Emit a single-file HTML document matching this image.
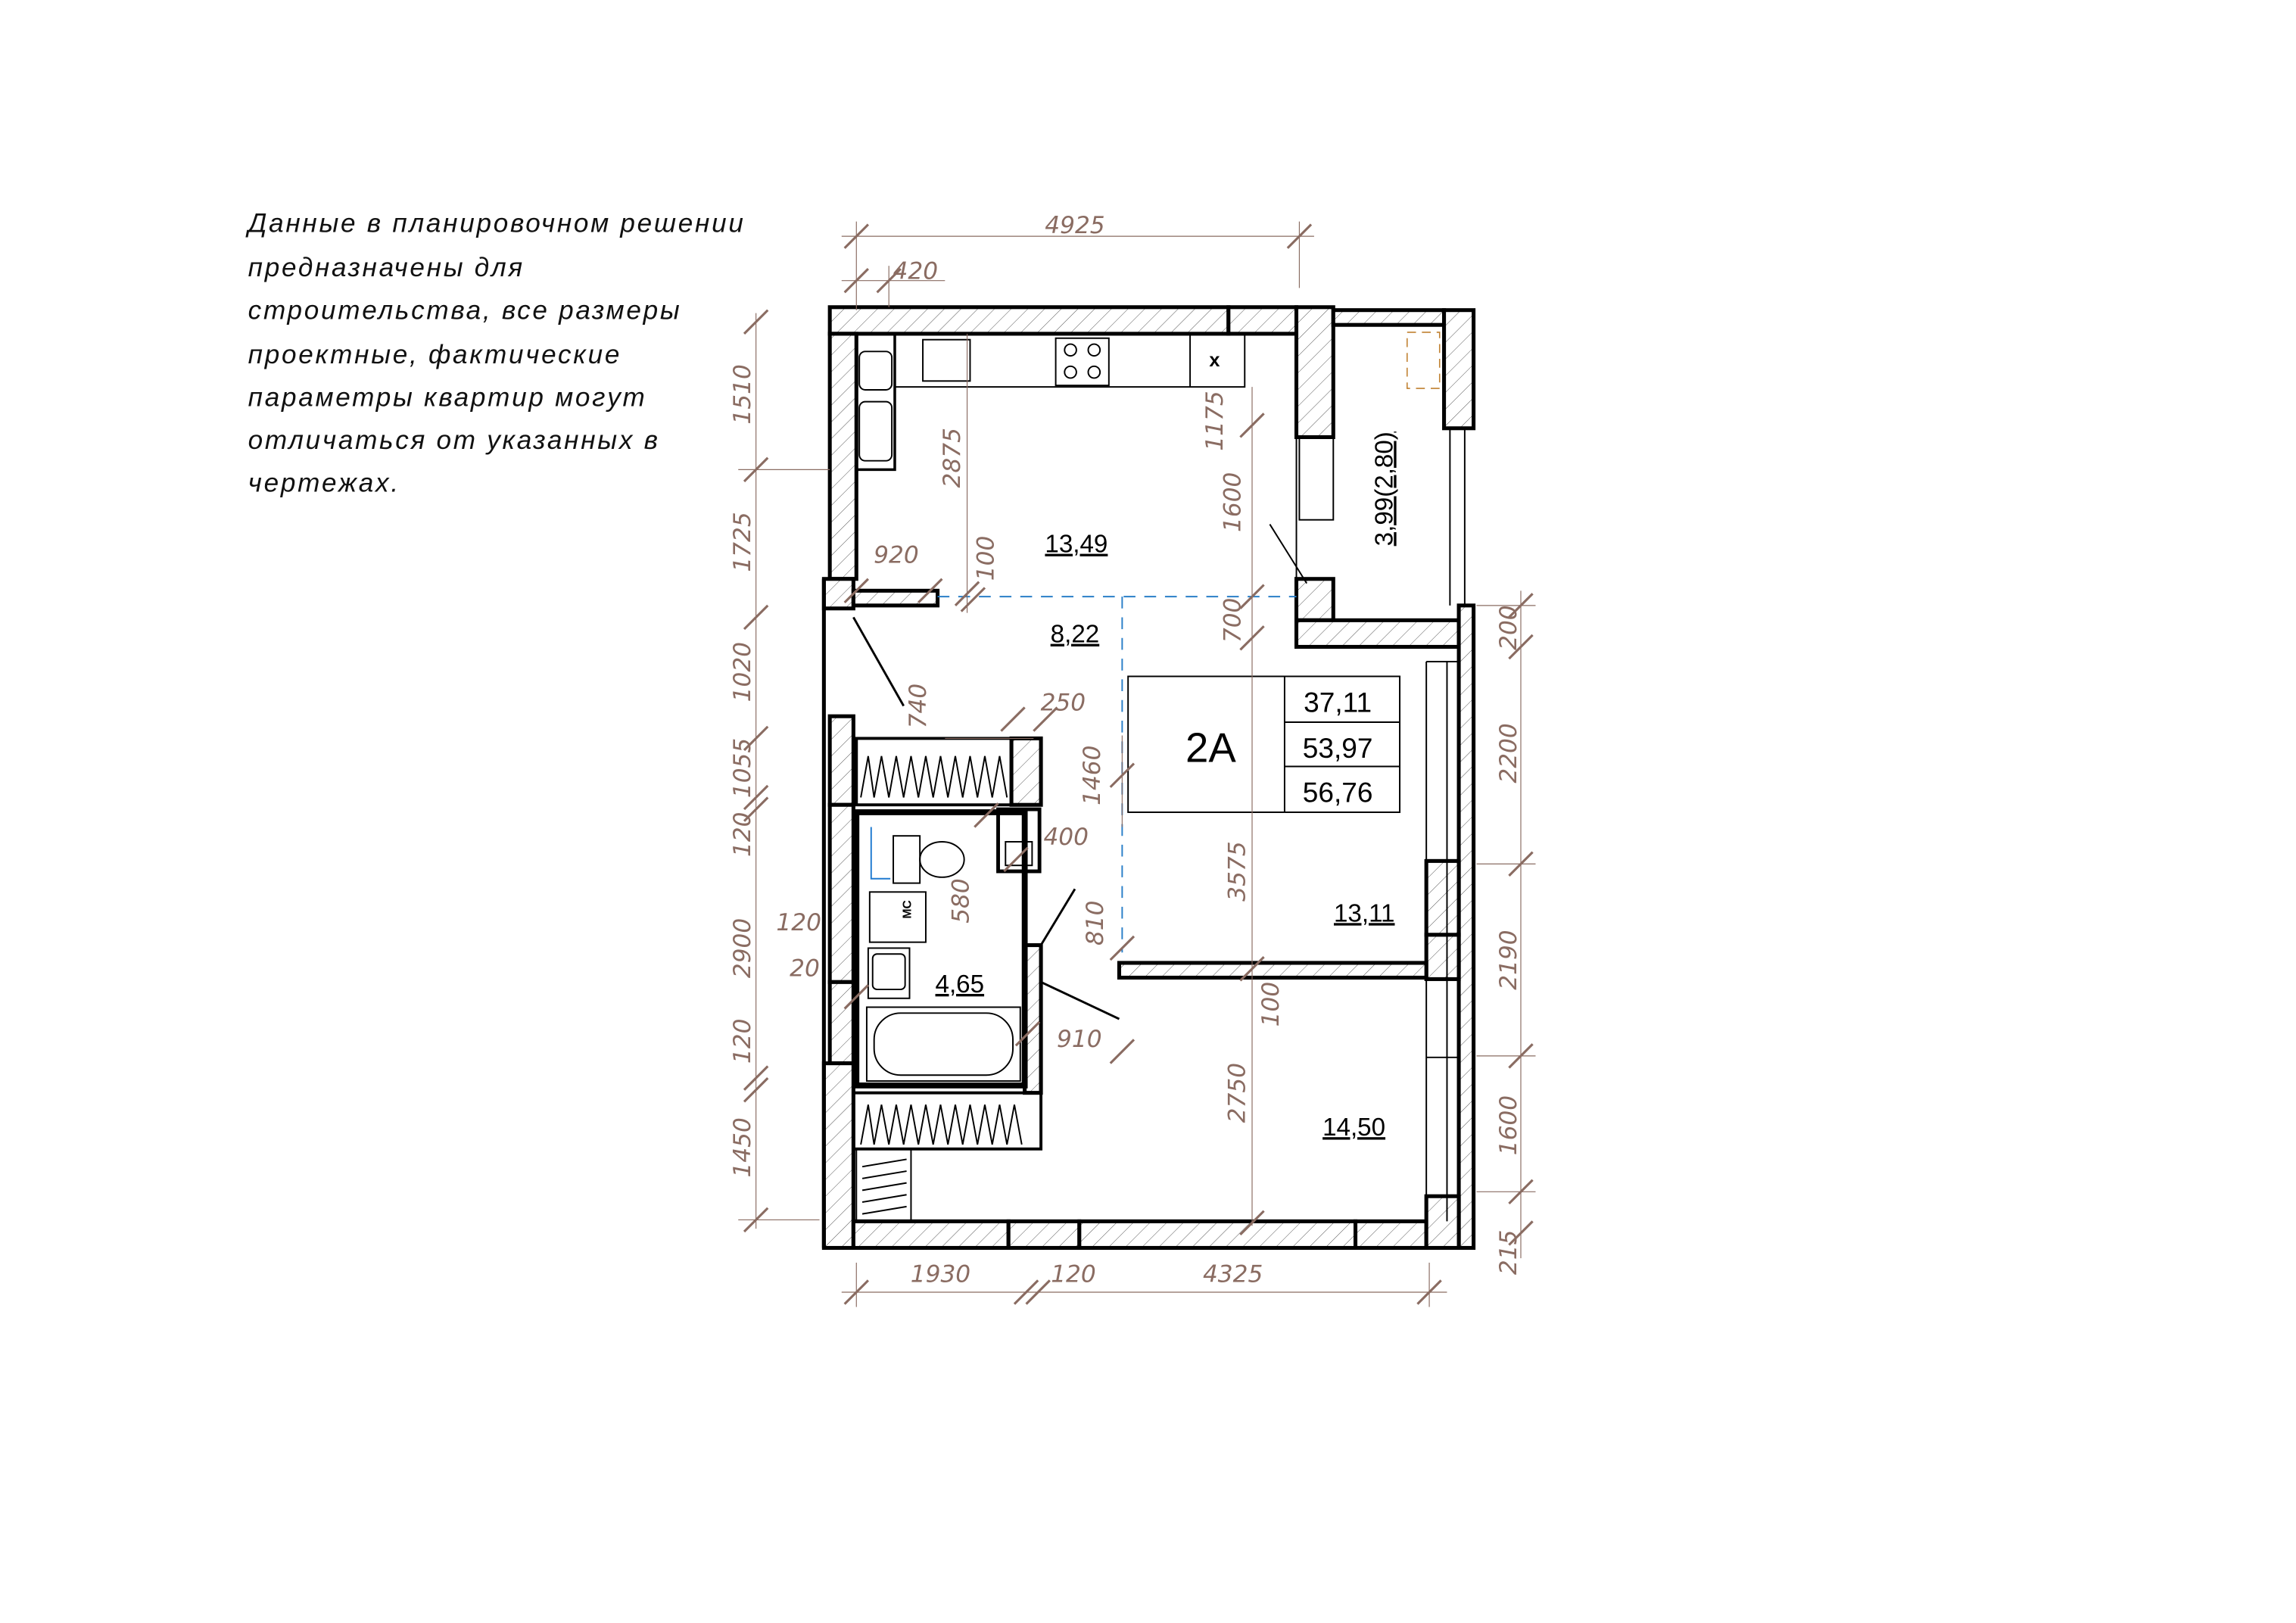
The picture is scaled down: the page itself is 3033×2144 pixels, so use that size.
<!DOCTYPE html>
<html><head><meta charset="utf-8"><style>
html,body{margin:0;padding:0;background:#fff;}
svg{display:block}
.d{stroke:#8a6c62;stroke-width:0.6;fill:none}
.t{stroke:#8a6c62;stroke-width:1.6}
.dt{fill:#8a6c62;font-family:"DejaVu Sans","Liberation Sans",sans-serif;font-style:italic;font-size:16px}
.w{fill:url(#h);stroke:#000;stroke-width:2.6}
.k{stroke:#000;fill:none;stroke-width:2.6}
.th{stroke:#000;fill:none;stroke-width:1}
.rl{font-family:"Liberation Sans",sans-serif;font-size:17px;fill:#000;text-decoration:underline}
.n{font-family:"Liberation Sans","DejaVu Sans",sans-serif;font-style:italic;font-size:18px;fill:#111;letter-spacing:1.4px}
</style></head><body>
<svg width="3033" height="2144" viewBox="0 0 1555 1099" preserveAspectRatio="none" xmlns="http://www.w3.org/2000/svg">
<defs><pattern id="h" width="8" height="8" patternUnits="userSpaceOnUse" patternTransform="rotate(45)"><rect width="8" height="8" fill="#fff"/><line x1="0" y1="0" x2="0" y2="8" stroke="#555" stroke-width="0.5"/></pattern></defs>
<rect width="1555" height="1099" fill="#fff"/>
<g class="n">
<text x="168" y="157">Данные в планировочном решении</text>
<text x="168" y="187">предназначены для</text>
<text x="168" y="216">строительства, все размеры</text>
<text x="168" y="246">проектные, фактические</text>
<text x="168" y="275">параметры квартир могут</text>
<text x="168" y="304">отличаться от указанных в</text>
<text x="168" y="333">чертежах.</text>
</g>
<rect class="w" x="562" y="208" width="270" height="18"/>
<rect class="w" x="832" y="208" width="46" height="18"/>
<rect class="w" x="878" y="208" width="25" height="88"/>
<rect class="w" x="903" y="210" width="75" height="10"/>
<rect class="w" x="978" y="210" width="20" height="80"/>
<rect class="w" x="562" y="226" width="18" height="166"/>
<rect class="w" x="558" y="392" width="20" height="20"/>
<rect class="w" x="578" y="400" width="57" height="10"/>
<rect class="w" x="878" y="392" width="25" height="28"/>
<rect class="w" x="878" y="420" width="110" height="18"/>
<rect class="w" x="988" y="410" width="10" height="435"/>
<rect class="w" x="562" y="485" width="16" height="60"/>
<rect class="w" x="562" y="545" width="16" height="120"/>
<rect class="w" x="562" y="665" width="16" height="55"/>
<rect class="w" x="558" y="720" width="20" height="125"/>
<rect class="w" x="578" y="827" width="105" height="18"/>
<rect class="w" x="683" y="827" width="48" height="18"/>
<rect class="w" x="731" y="827" width="187" height="18"/>
<rect class="w" x="918" y="827" width="48" height="18"/>
<rect class="w" x="966" y="810" width="22" height="35"/>
<rect class="w" x="966" y="583" width="22" height="50"/>
<rect class="w" x="966" y="633" width="22" height="30"/>
<rect class="w" x="758" y="652" width="208" height="10"/>
<rect class="w" x="685" y="500" width="20" height="45"/>
<rect class="w" x="694" y="640" width="11" height="100"/>
<line class="k" x1="558" y1="392" x2="558" y2="845"/>
<line class="k" x1="562" y1="845" x2="998" y2="845"/>
<line class="th" x1="966" y1="448" x2="966" y2="827"/><line class="th" x1="980" y1="448" x2="980" y2="827"/>
<line class="th" x1="966" y1="448" x2="988" y2="448"/><line class="th" x1="966" y1="716" x2="988" y2="716"/>
<line class="th" x1="982" y1="290" x2="982" y2="410"/><line class="th" x1="992" y1="290" x2="992" y2="410"/>
<line class="th" x1="878" y1="296" x2="878" y2="392"/>
<rect class="th" x="880" y="296" width="23" height="56"/>
<line x1="860" y1="355" x2="885" y2="395" stroke="#000" stroke-width="1"/>
<rect x="953" y="225" width="22" height="38" fill="none" stroke="#c08030" stroke-width="0.8" stroke-dasharray="6 4"/>
<rect class="k" x="580" y="226" width="26" height="92" style="stroke-width:1.8"/>
<rect class="th" x="606" y="226" width="237" height="36"/>
<rect class="th" x="625" y="230" width="32" height="28"/>
<rect class="th" x="715" y="229" width="36" height="32"/>
<circle class="th" cx="725" cy="237" r="4"/><circle class="th" cx="741" cy="237" r="4"/><circle class="th" cx="725" cy="252" r="4"/><circle class="th" cx="741" cy="252" r="4"/>
<line class="th" x1="806" y1="226" x2="806" y2="262"/>
<text x="819" y="248" font-family="Liberation Sans" font-size="13" font-weight="bold">x</text>
<rect class="th" x="582" y="238" width="22" height="26" rx="4"/><rect class="th" x="582" y="272" width="22" height="40" rx="4"/>
<line x1="578" y1="418" x2="612" y2="478" stroke="#000" stroke-width="1.5"/>
<line x1="705" y1="640" x2="728" y2="602" stroke="#000" stroke-width="1.5"/>
<line x1="705" y1="665" x2="758" y2="690" stroke="#000" stroke-width="1.5"/>
<rect class="th" x="580" y="500" width="105" height="45" style="stroke-width:2"/>
<path class="th" d="M583 540 L588 512 L592 540 L597 512 L602 540 L607 512 L612 540 L617 512 L622 540 L627 512 L632 540 L637 512 L642 540 L647 512 L652 540 L657 512 L662 540 L667 512 L672 540 L677 512 L682 540"/>
<rect class="th" x="578" y="740" width="127" height="38" style="stroke-width:2"/>
<path class="th" d="M583 775 L588 748 L592 775 L597 748 L602 775 L607 748 L612 775 L617 748 L622 775 L627 748 L632 775 L637 748 L642 775 L647 748 L652 775 L657 748 L662 775 L667 748 L672 775 L677 748 L682 775 L687 748 L692 775"/>
<rect class="th" x="580" y="778" width="37" height="49"/>
<path class="th" d="M584 790 L614 785 M584 798 L614 793 M584 806 L614 801 M584 814 L614 809 M584 822 L614 817"/>
<rect x="580" y="550" width="114" height="185" fill="none" stroke="#000" stroke-width="4"/>
<rect class="k" x="676" y="548" width="28" height="42" style="stroke-width:2.5"/>
<rect class="th" x="681" y="570" width="18" height="16"/>
<path d="M590 560 V595 H603" stroke="#1f7ad0" fill="none" stroke-width="1"/>
<rect class="th" x="605" y="566" width="18" height="32"/>
<ellipse class="th" cx="638" cy="582" rx="15" ry="12"/>
<rect class="th" x="589" y="604" width="38" height="34"/>
<text x="617" y="622" font-family="Liberation Sans" font-size="8" font-weight="bold" transform="rotate(-90 617 622)">МС</text>
<rect class="th" x="588" y="642" width="28" height="34"/>
<rect class="th" x="591" y="646" width="22" height="24" rx="3"/>
<rect class="th" x="587" y="682" width="104" height="50"/>
<rect class="th" x="592" y="686" width="94" height="42" rx="18"/>
<path d="M635 404 H878 M760 404 V645" stroke="#2a7fc8" stroke-width="1" stroke-dasharray="8 6" fill="none"/>
<rect x="764" y="458" width="184" height="92" fill="#fff" stroke="#000" stroke-width="1"/>
<line class="th" x1="870" y1="458" x2="870" y2="550"/>
<line class="th" x1="870" y1="489" x2="948" y2="489"/><line class="th" x1="870" y1="519" x2="948" y2="519"/>
<text x="820" y="516" font-family="Liberation Sans" font-size="28" text-anchor="middle">2A</text>
<g font-family="Liberation Sans" font-size="19" text-anchor="middle"><text x="906" y="482">37,11</text><text x="906" y="513">53,97</text><text x="906" y="543">56,76</text></g>
<text class="rl" x="729" y="374" text-anchor="middle">13,49</text>
<text class="rl" x="728" y="435" text-anchor="middle">8,22</text>
<text class="rl" x="924" y="624" text-anchor="middle">13,11</text>
<text class="rl" x="917" y="769" text-anchor="middle">14,50</text>
<text class="rl" x="650" y="672" text-anchor="middle">4,65</text>
<text class="rl" x="943" y="331" text-anchor="middle" transform="rotate(-90 943 331)">3,99(2,80)</text>
<g>
<line class="d" x1="570" y1="160" x2="890" y2="160"/><line class="d" x1="580" y1="150" x2="580" y2="210"/><line class="d" x1="880" y1="150" x2="880" y2="195"/>
<line class="d" x1="570" y1="190" x2="640" y2="190"/><line class="d" x1="602" y1="180" x2="602" y2="208"/>
<line class="d" x1="512" y1="212" x2="512" y2="832"/>
<line class="d" x1="1030" y1="400" x2="1030" y2="852"/>
<line class="d" x1="570" y1="875" x2="980" y2="875"/>
<line class="d" x1="848" y1="262" x2="848" y2="830"/>
<line class="d" x1="655" y1="226" x2="655" y2="415"/>
<line class="d" x1="500" y1="318" x2="562" y2="318"/><line class="d" x1="500" y1="826" x2="555" y2="826"/>
<line class="d" x1="1000" y1="410" x2="1040" y2="410"/><line class="d" x1="1000" y1="585" x2="1040" y2="585"/><line class="d" x1="1000" y1="715" x2="1040" y2="715"/><line class="d" x1="1000" y1="807" x2="1040" y2="807"/>
<line class="d" x1="580" y1="855" x2="580" y2="885"/><line class="d" x1="968" y1="855" x2="968" y2="885"/>
<line class="d" x1="760" y1="498" x2="760" y2="560"/>
<line class="d" x1="640" y1="500" x2="700" y2="500"/>
<g class="t">
<path d="M572 168 L588 152 M872 168 L888 152 M572 198 L588 182 M594 198 L610 182"/>
<path d="M504 226 L520 210 M504 326 L520 310 M504 426 L520 410 M504 508 L520 492 M504 548 L520 532 M504 556 L520 540 M504 738 L520 722 M504 746 L520 730 M504 834 L520 818"/>
<path d="M1022 418 L1038 402 M1022 446 L1038 430 M1022 593 L1038 577 M1022 723 L1038 707 M1022 815 L1038 799 M1022 843 L1038 827"/>
<path d="M572 883 L588 867 M687 883 L703 867 M695 883 L711 867 M960 883 L976 867"/>
<path d="M840 296 L856 280 M840 412 L856 396 M840 440 L856 424 M840 664 L856 648 M840 836 L856 820"/>
<path d="M647 410 L663 394 M651 414 L667 398 M572 408 L588 392 M622 408 L638 392"/>
<path d="M678 495 L694 479 M700 495 L716 479 M660 560 L676 544 M680 590 L696 574 M752 533 L768 517 M752 650 L768 634 M688 708 L704 692 M752 720 L768 704 M572 683 L588 667"/>
</g>
<g class="dt">
<text x="728" y="158" text-anchor="middle">4925</text>
<text x="620" y="189" text-anchor="middle">420</text>
<text x="637" y="868" text-anchor="middle">1930</text>
<text x="727" y="868" text-anchor="middle">120</text>
<text x="835" y="868" text-anchor="middle">4325</text>
<text x="607" y="381" text-anchor="middle">920</text>
<text x="720" y="481" text-anchor="middle">250</text>
<text x="722" y="572" text-anchor="middle">400</text>
<text x="541" y="630" text-anchor="middle">120</text>
<text x="545" y="661" text-anchor="middle">20</text>
<text x="731" y="709" text-anchor="middle">910</text>
<g text-anchor="middle">
<text transform="translate(508,267) rotate(-90)">1510</text>
<text transform="translate(508,367) rotate(-90)">1725</text>
<text transform="translate(508,455) rotate(-90)">1020</text>
<text transform="translate(508,520) rotate(-90)">1055</text>
<text transform="translate(508,565) rotate(-90)">120</text>
<text transform="translate(508,642) rotate(-90)">2900</text>
<text transform="translate(508,705) rotate(-90)">120</text>
<text transform="translate(508,777) rotate(-90)">1450</text>
<text transform="translate(1027,425) rotate(-90)">200</text>
<text transform="translate(1027,510) rotate(-90)">2200</text>
<text transform="translate(1027,650) rotate(-90)">2190</text>
<text transform="translate(1027,762) rotate(-90)">1600</text>
<text transform="translate(1027,848) rotate(-90)">215</text>
<text transform="translate(828,285) rotate(-90)">1175</text>
<text transform="translate(840,340) rotate(-90)">1600</text>
<text transform="translate(840,420) rotate(-90)">700</text>
<text transform="translate(843,590) rotate(-90)">3575</text>
<text transform="translate(866,680) rotate(-90)">100</text>
<text transform="translate(843,740) rotate(-90)">2750</text>
<text transform="translate(650,310) rotate(-90)">2875</text>
<text transform="translate(673,378) rotate(-90)">100</text>
<text transform="translate(627,478) rotate(-90)">740</text>
<text transform="translate(745,525) rotate(-90)">1460</text>
<text transform="translate(656,610) rotate(-90)">580</text>
<text transform="translate(747,625) rotate(-90)">810</text>
</g>
</g>
</g>
</svg>
</body></html>
